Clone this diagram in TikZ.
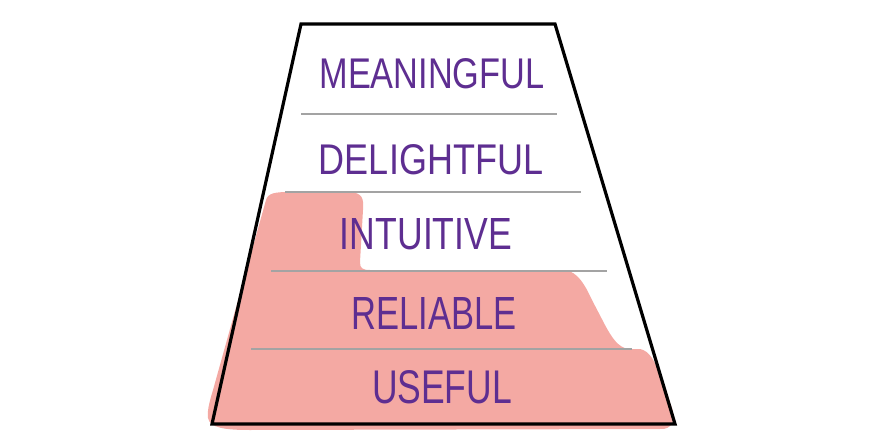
\documentclass[tikz,border=0pt]{standalone}
\usepackage{fontspec}
\usepackage{graphicx}
\newfontfamily\handfont{Liberation Sans}
\definecolor{pinkfill}{HTML}{F4A9A3}
\definecolor{inkpurple}{HTML}{5E2E91}
\definecolor{rulegray}{HTML}{A3A3A3}
\tikzset{
  level/.style={inner sep=0pt, text=inkpurple, font=\handfont},
  divider/.style={draw=rulegray, line width=1.8pt},
  frame/.style={draw=black, line width=3.2pt, line join=miter},
  highlight/.style={fill=pinkfill, draw=none}
}
\newcommand{\lbl}[3]{\resizebox{#1pt}{#2pt}{#3}}
\begin{document}
\begin{tikzpicture}[x=1pt, y=-1pt]
\useasboundingbox (0,0) rectangle (892,444);
% pink highlight
\path[highlight] (266,200) .. controls (268,193) and (275,192) .. (290,192)
  -- (350,192) .. controls (362,193) and (364,198) .. (363,210)
  -- (360,262) .. controls (360,268) and (362,270) .. (370,270)
  -- (565,270) .. controls (578,272) and (585,285) .. (592,300)
  -- (605,325) .. controls (612,338) and (618,347) .. (628,349)
  -- (640,349) .. controls (650,351) and (655,362) .. (660,375)
  -- (672,408) .. controls (676,420) and (672,430) .. (660,429)
  -- (250,430) .. controls (225,430) and (210,428) .. (208,418)
  .. controls (207,410) and (210,400) .. (213,390) -- cycle;
% dividers
\coordinate (d1l) at (301,114); \coordinate (d1r) at (557,114);
\coordinate (d2l) at (285,192); \coordinate (d2r) at (581,192);
\coordinate (d3l) at (271,271); \coordinate (d3r) at (607,271);
\coordinate (d4l) at (251,349); \coordinate (d4r) at (632,349);
\draw[divider] (d1l) -- (d1r);
\draw[divider] (d2l) -- (d2r);
\draw[divider] (d3l) -- (d3r);
\draw[divider] (d4l) -- (d4r);
% frame
\coordinate (tl) at (301,24); \coordinate (tr) at (555,24);
\coordinate (br) at (675,424); \coordinate (bl) at (212,424);
\draw[frame] (tl) -- (tr) -- (br) -- (bl) -- cycle;
% labels
\node[level] (meaningful) at (432,74) {\lbl{225}{30}{MEANINGFUL}};
\node[level] (delightful) at (431,160) {\lbl{224}{30}{DELIGHTFUL}};
\node[level] (intuitive) at (426,234) {\lbl{172}{31}{INTUITIVE}};
\node[level] (reliable) at (434,313) {\lbl{165}{32}{RELIABLE}};
\node[level] (useful) at (442,387) {\lbl{140}{33}{USEFUL}};
\end{tikzpicture}
\end{document}
